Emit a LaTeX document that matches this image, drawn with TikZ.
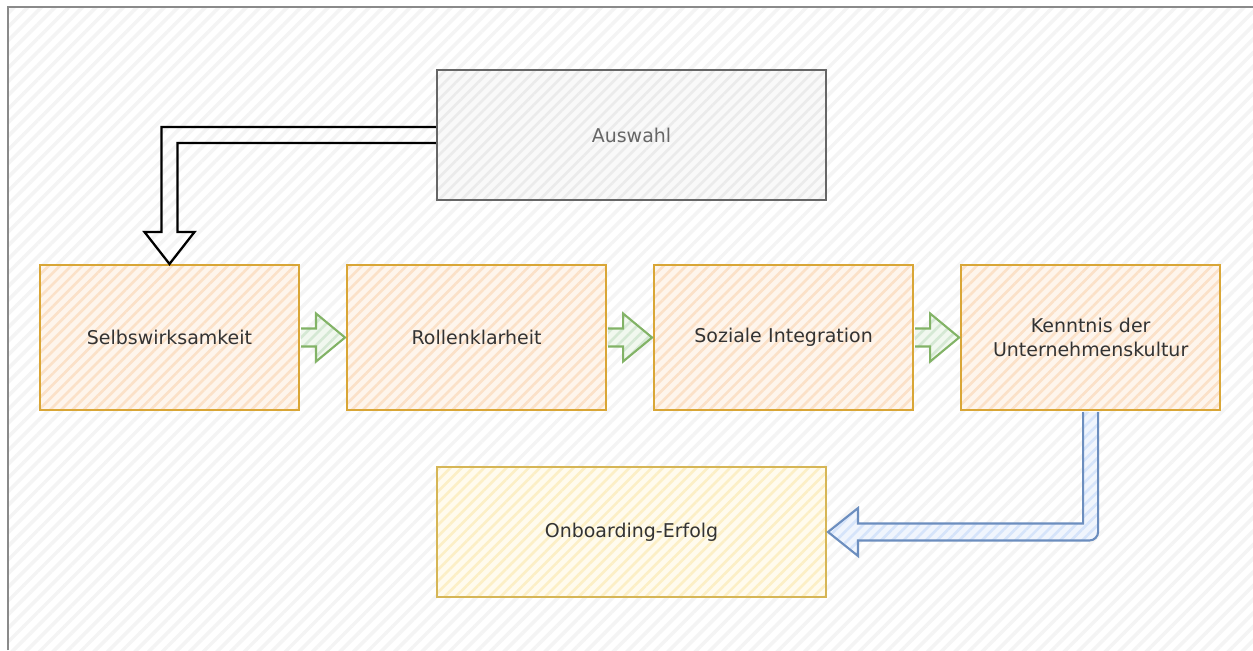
\documentclass[tikz,border=0pt]{standalone}
\usepackage{fontspec}
\setmainfont{DejaVu Sans}
\usepackage{xcolor}
\usetikzlibrary{positioning, calc, patterns.meta}
\definecolor{rahmengrau}{HTML}{8A8A8A}
\definecolor{bgstreifen}{HTML}{F4F4F4}
\definecolor{stufelinie}{HTML}{D9A636}
\definecolor{stufefill}{HTML}{FEF5EC}
\definecolor{stufestreifen}{HTML}{FBE1C8}
\definecolor{erfolglinie}{HTML}{D6B656}
\definecolor{erfolgfill}{HTML}{FFFBEE}
\definecolor{erfolgstreifen}{HTML}{FCEFC6}
\definecolor{auswahllinie}{HTML}{666666}
\definecolor{auswahlfill}{HTML}{F9F9F9}
\definecolor{auswahlstreifen}{HTML}{EBEBEB}
\definecolor{gruenlinie}{HTML}{82B366}
\definecolor{gruenfill}{HTML}{F1F8EF}
\definecolor{gruenstreifen}{HTML}{D5E8D4}
\definecolor{blaulinie}{HTML}{6C8EBF}
\definecolor{blaufill}{HTML}{F0F5FD}
\definecolor{blaustreifen}{HTML}{D6E4FA}
\definecolor{textgrau}{HTML}{333333}
\tikzset{
    schraffur/.style 2 args={preaction={fill=#1}, preaction={pattern={Lines[angle=45,distance=4.5pt,line width=1.5pt]}, pattern color=#2}},
    stufe/.style={rectangle, draw=stufelinie, line width=1.2pt, schraffur={stufefill}{stufestreifen}, minimum width=5.18cm, minimum height=2.9cm, text width=4.8cm, inner sep=0pt, align=center, font=\fontsize{10.8}{13.5}\selectfont, text=textgrau},
    erfolgbox/.style={stufe, draw=erfolglinie, schraffur={erfolgfill}{erfolgstreifen}, minimum width=7.78cm, minimum height=2.6cm},
    auswahlbox/.style={stufe, draw=auswahllinie, schraffur={auswahlfill}{auswahlstreifen}, minimum width=7.78cm, minimum height=2.6cm, text=auswahllinie},
    blockpfeil/.style={draw=black, line width=1.3pt, line join=miter},
    gruenpfeil/.style={draw=gruenlinie, line width=1.2pt, schraffur={gruenfill}{gruenstreifen}},
    blaupfeil/.style={draw=blaulinie, line width=1.2pt, schraffur={blaufill}{blaustreifen}}
}
\begin{document}
\begin{tikzpicture}[x=0.02cm, y=-0.02cm, node distance=0.92cm]
  \useasboundingbox (0,0) rectangle (1253,650);
  % Hintergrund mit Rahmen oben und links
  \fill[white] (0,0) rectangle (1253,650);
  \path[pattern={Lines[angle=45,distance=5.5pt,line width=2pt]}, pattern color=bgstreifen] (8,7) rectangle (1253,650);
  \draw[rahmengrau, line width=1.4pt] (8,650) -- (8,7) -- (1253,7);

  \node[auswahlbox] (auswahl) at (631.5,135) {Auswahl};
  \node[stufe] (selbst) at (169.5,337.5) {Selbswirksamkeit};
  \node[stufe, right=of selbst] (rolle) {Rollenklarheit};
  \node[stufe, right=of rolle] (sozial) {Soziale Integration};
  \node[stufe, right=of sozial] (kultur) {Kenntnis der\\Unternehmenskultur};
  \node[erfolgbox] (erfolg) at (631.5,532) {Onboarding-Erfolg};

  % Auswahl -> Selbswirksamkeit
  \draw[blockpfeil] ($(auswahl.west)+(0,-8)$) -- ($(selbst.north |- auswahl.west)+(-8,-8)$)
    -- ($(selbst.north)+(-8,-32)$) -- ($(selbst.north)+(-25,-32)$) -- (selbst.north)
    -- ($(selbst.north)+(25,-32)$) -- ($(selbst.north)+(8,-32)$)
    -- ($(selbst.north |- auswahl.west)+(8,8)$) -- ($(auswahl.west)+(0,8)$);

  % Stufen untereinander
  \foreach \a/\b in {selbst/rolle, rolle/sozial, sozial/kultur}
    \draw[gruenpfeil] ($(\a.east)+(1,-9)$) -- ($(\a.east)+(16,-9)$) -- ($(\a.east)+(16,-24)$)
      -- ($(\b.west)+(-1,0)$) -- ($(\a.east)+(16,24)$) -- ($(\a.east)+(16,9)$) -- ($(\a.east)+(1,9)$);

  % Kultur -> Onboarding-Erfolg
  \draw[blaupfeil] ($(kultur.south)+(-7.5,1)$) -- ($(kultur.south |- erfolg.east)+(-7.5,-8.5)$)
    -- ($(erfolg.east)+(31,-8.5)$) -- ($(erfolg.east)+(31,-24)$) -- ($(erfolg.east)+(1,0)$)
    -- ($(erfolg.east)+(31,24)$) -- ($(erfolg.east)+(31,8.5)$)
    [rounded corners=5pt] -- ($(kultur.south |- erfolg.east)+(7.5,8.5)$)
    [sharp corners] -- ($(kultur.south)+(7.5,1)$);
\end{tikzpicture}
\end{document}
